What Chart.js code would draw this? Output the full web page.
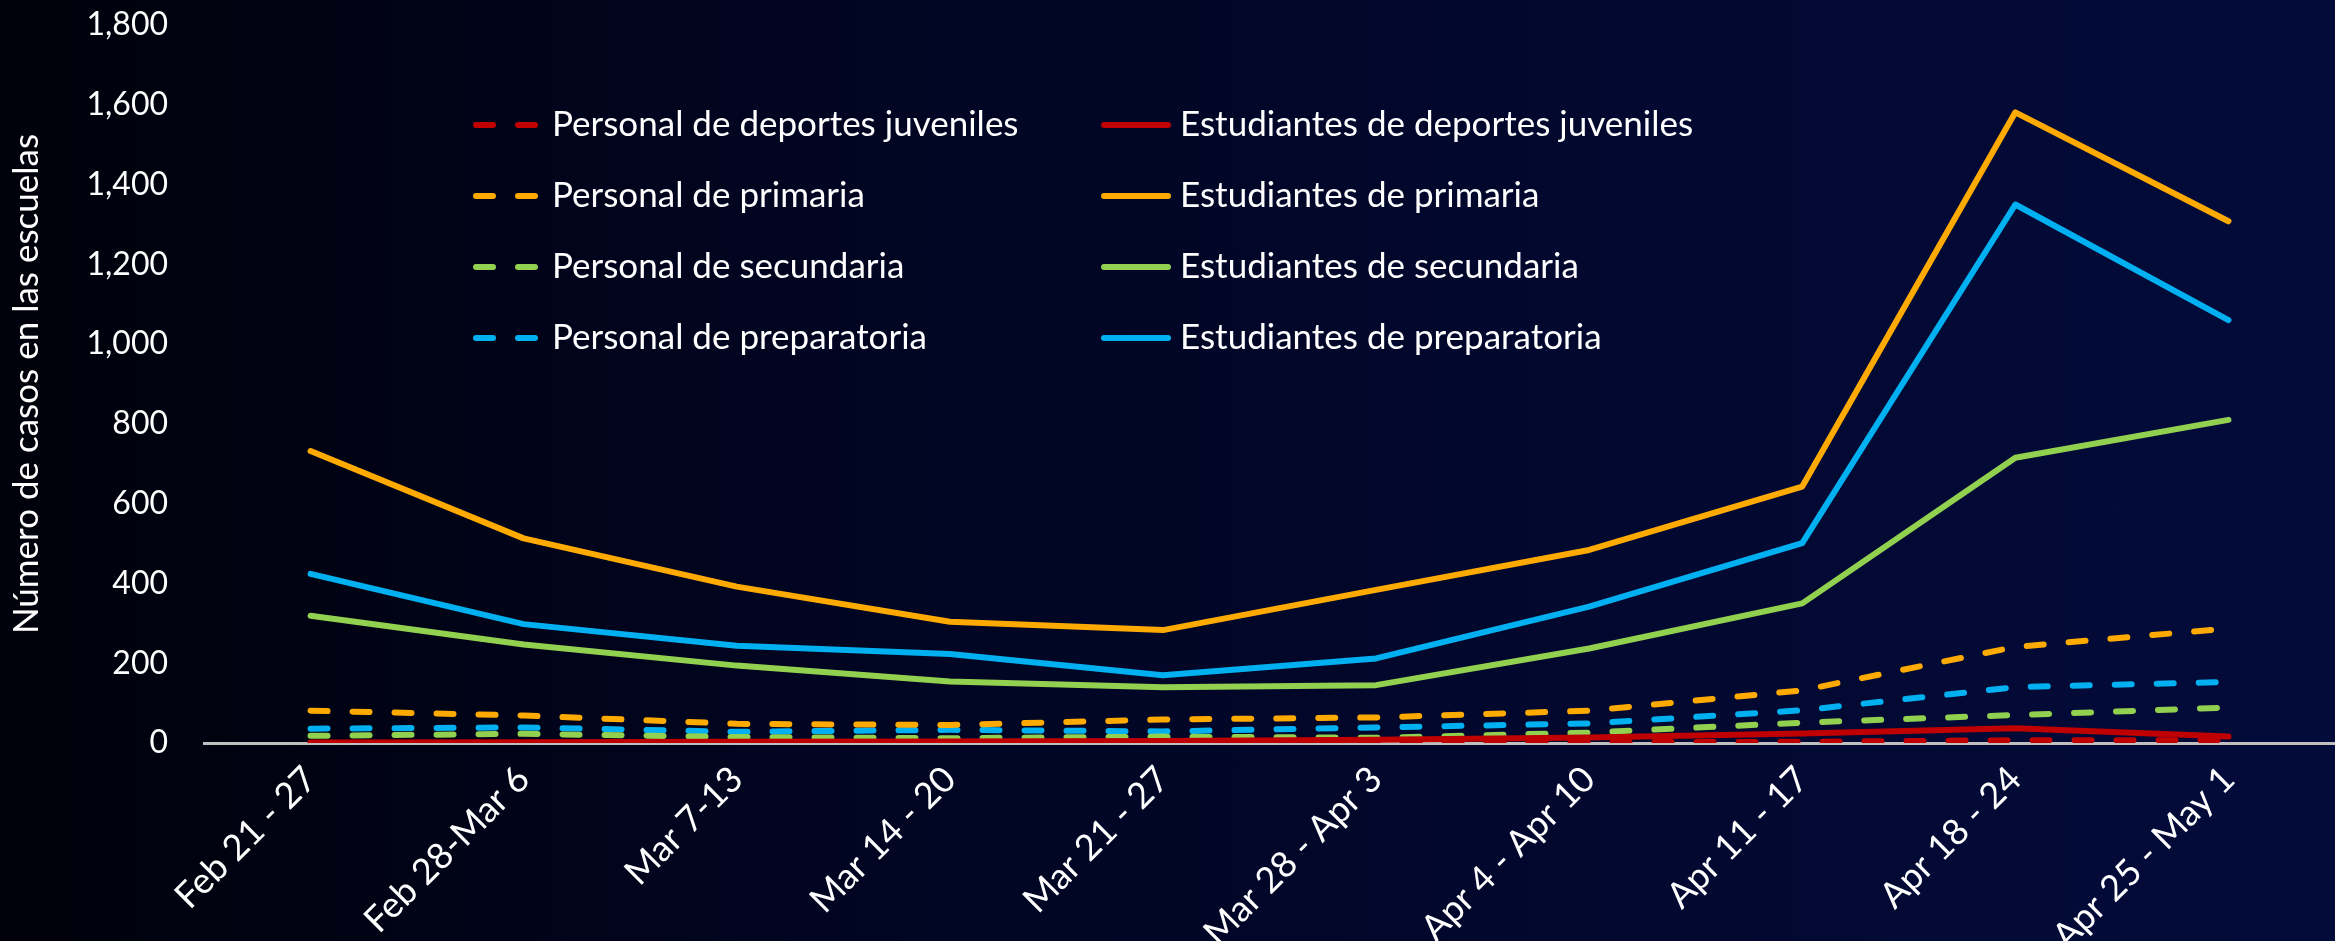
<!DOCTYPE html>
<html lang="es">
<head>
<meta charset="utf-8">
<title>Casos en las escuelas</title>
<script src="https://cdn.jsdelivr.net/npm/chart.js@4.4.0/dist/chart.umd.min.js"></script>
<style>
  html, body { margin: 0; padding: 0; }
  body {
    width: 2335px; height: 941px; overflow: hidden;
    background: linear-gradient(90deg, #00010a 0%, #010521 35%, #030b3b 100%);
  }
</style>
</head>
<body>
<canvas id="casosChart" width="2335" height="941"></canvas>
<script>
// Semanas
const semanas = ['Feb 21 - 27', 'Feb 28-Mar 6', 'Mar 7-13', 'Mar 14 - 20', 'Mar 21 - 27',
                 'Mar 28 - Apr 3', 'Apr 4 - Apr 10', 'Apr 11 - 17', 'Apr 18 - 24', 'Apr 25 - May 1'];

// Casos por grupo
const personalJuveniles     = [0, 0, 1, 1, 2, 1, 2, 3, 7, 7];
const estudiantesJuveniles  = [1, 2, 3, 4, 5, 8, 14, 24, 37, 16];
const personalPrimaria      = [81, 69, 48, 45, 59, 64, 81, 132, 241, 287];
const estudiantesPrimaria   = [732, 513, 392, 304, 283, 384, 484, 643, 1581, 1308];
const personalSecundaria    = [18, 23, 15, 12, 16, 13, 26, 51, 70, 89];
const estudiantesSecundaria = [319, 247, 194, 154, 140, 145, 237, 350, 715, 810];
const personalPrepa         = [36, 39, 28, 33, 29, 39, 49, 82, 140, 153];
const estudiantesPrepa      = [424, 298, 244, 223, 170, 212, 342, 501, 1350, 1060];

const rojo = '#C00000', naranja = '#FFAA00', verde = '#92D050', azul = '#00B0F0';
const guiones = [17, 25];
const fuente = 'Lato, "Open Sans", sans-serif';

function serie(label, data, color, discontinua) {
    return {
        label: label,
        data: data,
        borderColor: color,
        backgroundColor: color,
        borderWidth: 6,
        borderDash: discontinua ? guiones : [],
        borderCapStyle: 'round',
        borderJoinStyle: 'round',
        pointRadius: 0,
        fill: false,
        tension: 0
    };
}

// Leyenda en dos columnas dentro del área del gráfico
const leyendaDosColumnas = {
    id: 'leyendaDosColumnas',
    afterDraw(chart) {
        const ctx = chart.ctx;
        const columnas = [473, 1101];
        const filaInicio = 125, filaPaso = 71;
        chart.data.datasets.forEach((ds, i) => {
            const x = columnas[i % 2];
            const y = filaInicio + Math.floor(i / 2) * filaPaso;
            ctx.save();
            ctx.strokeStyle = ds.borderColor;
            ctx.lineWidth = ds.borderWidth;
            ctx.lineCap = 'round';
            ctx.setLineDash(ds.borderDash);
            ctx.beginPath();
            ctx.moveTo(x + 3, y);
            ctx.lineTo(x + 67, y);
            ctx.stroke();
            ctx.setLineDash([]);
            ctx.fillStyle = '#ffffff';
            ctx.font = '35px ' + fuente;
            ctx.textBaseline = 'middle';
            ctx.fillText(ds.label, x + 79, y);
            ctx.restore();
        });
    }
};

const ctx = document.getElementById('casosChart').getContext('2d');
const casosChart = new Chart(ctx, {
    type: 'line',
    data: {
        labels: semanas,
        datasets: [
            serie('Personal de deportes juveniles', personalJuveniles, rojo, true),
            serie('Estudiantes de deportes juveniles', estudiantesJuveniles, rojo, false),
            serie('Personal de primaria', personalPrimaria, naranja, true),
            serie('Estudiantes de primaria', estudiantesPrimaria, naranja, false),
            serie('Personal de secundaria', personalSecundaria, verde, true),
            serie('Estudiantes de secundaria', estudiantesSecundaria, verde, false),
            serie('Personal de preparatoria', personalPrepa, azul, true),
            serie('Estudiantes de preparatoria', estudiantesPrepa, azul, false)
        ]
    },
    options: {
        responsive: false,
        animation: false,
        devicePixelRatio: 1,
        layout: { padding: { top: 25, right: -33, left: 0, bottom: 0 } },
        plugins: {
            legend: { display: false },
            tooltip: { enabled: false }
        },
        scales: {
            x: {
                offset: true,
                grid: { display: false, drawTicks: false },
                border: { display: true, color: '#BFBFBF', width: 3 },
                ticks: {
                    color: '#ffffff',
                    font: { family: fuente, size: 36 },
                    minRotation: 45,
                    maxRotation: 45,
                    padding: 15,
                    autoSkip: false
                },
                afterFit(scale) {
                    scale.height = 198;
                    scale.paddingLeft = 0;
                    scale.paddingRight = 0;
                }
            },
            y: {
                min: 0,
                max: 1800,
                grid: { display: false, drawTicks: false },
                border: { display: false },
                ticks: {
                    stepSize: 200,
                    color: '#ffffff',
                    font: { family: fuente, size: 32 },
                    padding: 36
                },
                title: {
                    display: true,
                    text: 'Número de casos en las escuelas',
                    color: '#ffffff',
                    font: { family: fuente, size: 35 },
                    padding: { top: 6, bottom: 0 }
                },
                afterFit(scale) {
                    scale.width = 204;
                    scale.paddingTop = 0;
                    scale.paddingBottom = 0;
                }
            }
        }
    },
    plugins: [leyendaDosColumnas]
});
</script>
</body>
</html>
